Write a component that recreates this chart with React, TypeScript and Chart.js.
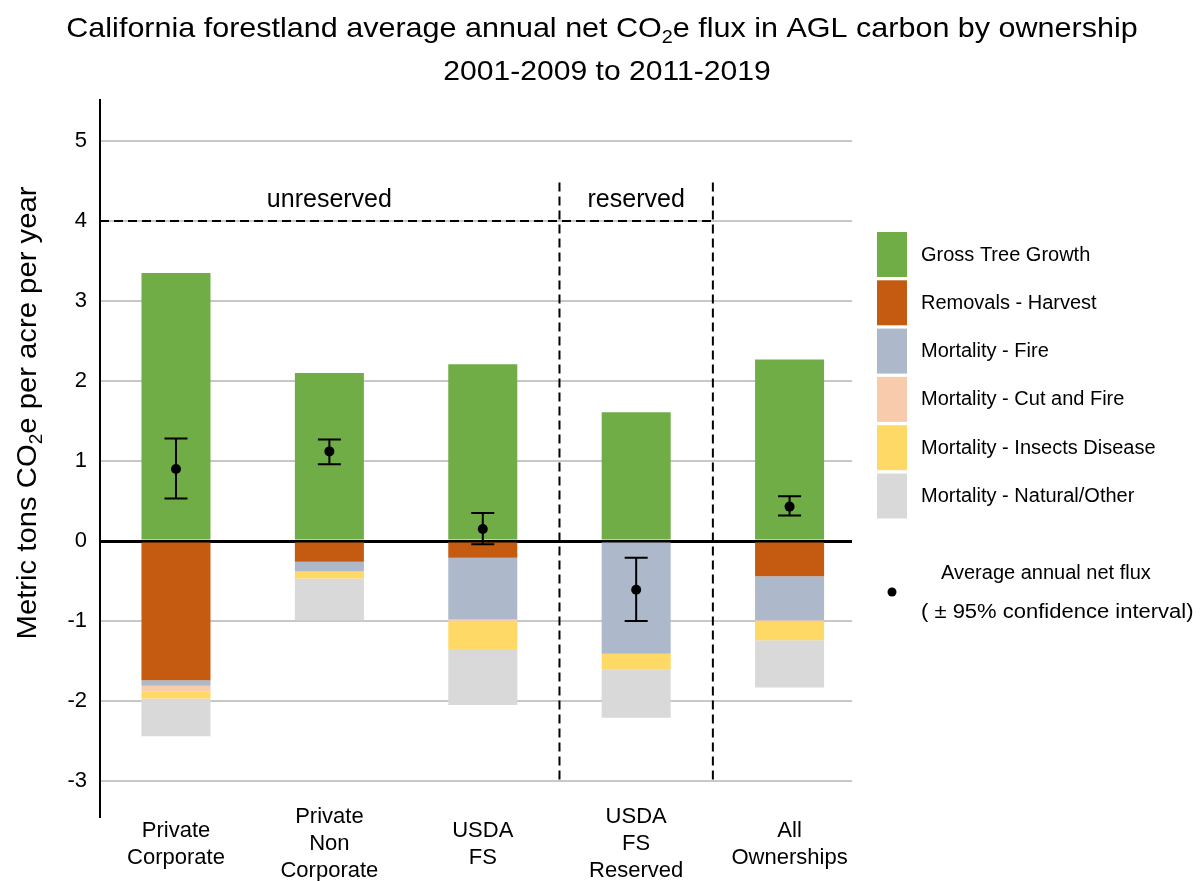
import React, { useEffect, useRef } from "react";
import { Chart, registerables } from "chart.js";

Chart.register(...registerables);

// ---------- data ----------
const CATEGORY_LABELS: string[][] = [
  ["Private", "Corporate"],
  ["Private", "Non", "Corporate"],
  ["USDA", "FS"],
  ["USDA", "FS", "Reserved"],
  ["All", "Ownerships"],
];
const SERIES_NAMES = [
  "Gross Tree Growth",
  "Removals - Harvest",
  "Mortality - Fire",
  "Mortality - Cut and Fire",
  "Mortality - Insects Disease",
  "Mortality - Natural/Other",
];
const SERIES_COLORS = ["#70AD47", "#C55A11", "#ADB9CA", "#F8CBAD", "#FFD966", "#D9D9D9"];

const GROSS_GROWTH = [3.35, 2.1, 2.21, 1.61, 2.27];
const REMOVALS_HARVEST = [-1.74, -0.26, -0.21, 0, -0.44];
const MORTALITY_FIRE = [-0.07, -0.12, -0.77, -1.41, -0.55];
const MORTALITY_CUT_FIRE = [-0.07, 0, -0.02, 0, -0.02];
const MORTALITY_INSECTS = [-0.09, -0.09, -0.35, -0.2, -0.23];
const MORTALITY_NATURAL = [-0.47, -0.52, -0.7, -0.6, -0.59];

const NET_FLUX = [0.9, 1.12, 0.15, -0.61, 0.43];
const CI_LOW = [0.53, 0.96, -0.04, -1.0, 0.32];
const CI_HIGH = [1.28, 1.27, 0.35, -0.21, 0.56];

const Y_TICKS = [-3, -2, -1, 0, 1, 2, 3, 4, 5];
const Y_MIN = -3.2125;
const Y_MAX = 5.5125;
const Y_AXIS_LINE_BOTTOM = -3.4625;
const X_MIN = -0.4954;
const X_MAX = 4.407;

const GROUP_LABELS = ["unreserved", "reserved"];
const GROUP_CENTERS = [1, 3];
const GROUP_DIVIDERS = [2.5, 3.5];
const GROUP_LINE_VALUE = 4;
const GROUP_LABEL_VALUE = 4.26;
const DIVIDER_TOP_VALUE = 4.48;

type Part = { t: string; sub?: boolean };
const TITLE_LINE_1: Part[] = [
  { t: "California forestland average annual net CO" },
  { t: "2", sub: true },
  { t: "e flux in AGL carbon by ownership" },
];
const TITLE_LINE_2: Part[] = [{ t: "2001-2009 to 2011-2019" }];
const Y_TITLE: Part[] = [
  { t: "Metric tons CO" },
  { t: "2", sub: true },
  { t: "e per acre per year" },
];
const FLUX_LEGEND = ["Average annual net flux", "( \u00B1 95% confidence interval)"];

const FONT = "'Liberation Sans', Arial, Helvetica, sans-serif";

// ---------- helpers ----------
function fontStr(size: number) {
  return `${size}px ${FONT}`;
}
function richWidth(ctx: CanvasRenderingContext2D, parts: Part[], size: number) {
  let w = 0;
  for (const p of parts) {
    ctx.font = fontStr(p.sub ? size * 0.65 : size);
    w += ctx.measureText(p.t).width;
  }
  return w;
}
// draws centred rich text (with subscripts), horizontally stretched by sx
function drawRich(
  ctx: CanvasRenderingContext2D,
  parts: Part[],
  cx: number,
  baseline: number,
  size: number,
  sx: number
) {
  ctx.save();
  ctx.translate(cx, baseline);
  ctx.scale(sx, 1);
  const w = richWidth(ctx, parts, size);
  let x = -w / 2;
  ctx.textAlign = "left";
  ctx.textBaseline = "alphabetic";
  for (const p of parts) {
    const s = p.sub ? size * 0.65 : size;
    ctx.font = fontStr(s);
    ctx.fillText(p.t, x, p.sub ? size * 0.2 : 0);
    x += ctx.measureText(p.t).width;
  }
  ctx.restore();
}

const decorPlugin = {
  id: "decor",
  beforeDatasetsDraw(chart: any) {
    const { ctx, scales, chartArea } = chart;
    const xs = scales.x;
    const ys = scales.y;
    ctx.save();
    ctx.strokeStyle = "#000";
    ctx.lineWidth = 2;
    // y axis line continues below the plot area
    ctx.beginPath();
    ctx.moveTo(chartArea.left, chartArea.bottom - 1);
    ctx.lineTo(chartArea.left, ys.getPixelForValue(Y_AXIS_LINE_BOTTOM));
    ctx.stroke();
    ctx.setLineDash([9, 5]);
    // horizontal group line
    const yLine = ys.getPixelForValue(GROUP_LINE_VALUE);
    ctx.beginPath();
    ctx.moveTo(chartArea.left, yLine);
    ctx.lineTo(xs.getPixelForValue(GROUP_DIVIDERS[GROUP_DIVIDERS.length - 1]), yLine);
    ctx.stroke();
    // vertical dividers
    for (const d of GROUP_DIVIDERS) {
      const px = xs.getPixelForValue(d);
      ctx.beginPath();
      ctx.moveTo(px, ys.getPixelForValue(DIVIDER_TOP_VALUE));
      ctx.lineTo(px, ys.getPixelForValue(Y_TICKS[0]));
      ctx.stroke();
    }
    ctx.setLineDash([]);
    // group labels
    ctx.fillStyle = "#000";
    ctx.font = fontStr(25);
    ctx.textAlign = "center";
    ctx.textBaseline = "middle";
    GROUP_LABELS.forEach((lab, i) => {
      ctx.fillText(lab, xs.getPixelForValue(GROUP_CENTERS[i]), ys.getPixelForValue(GROUP_LABEL_VALUE));
    });
    ctx.restore();
  },
  afterDatasetsDraw(chart: any) {
    const { ctx, scales } = chart;
    const xs = scales.x;
    const ys = scales.y;
    ctx.save();
    ctx.strokeStyle = "#000";
    ctx.lineWidth = 2;
    NET_FLUX.forEach((_, i) => {
      const px = xs.getPixelForValue(i);
      const yl = ys.getPixelForValue(CI_LOW[i]);
      const yh = ys.getPixelForValue(CI_HIGH[i]);
      ctx.beginPath();
      ctx.moveTo(px, yl);
      ctx.lineTo(px, yh);
      ctx.moveTo(px - 11.5, yl);
      ctx.lineTo(px + 11.5, yl);
      ctx.moveTo(px - 11.5, yh);
      ctx.lineTo(px + 11.5, yh);
      ctx.stroke();
    });
    ctx.restore();
  },
  afterDraw(chart: any) {
    const { ctx } = chart;
    ctx.save();
    ctx.fillStyle = "#000";
    // titles
    drawRich(ctx, TITLE_LINE_1, 602, 37, 28, 1.09);
    drawRich(ctx, TITLE_LINE_2, 607, 80, 28, 1.075);
    // y axis title
    ctx.save();
    ctx.translate(36, 413);
    ctx.rotate(-Math.PI / 2);
    drawRich(ctx, Y_TITLE, 0, 0, 28, 1.045);
    ctx.restore();
    // legend
    const bars = chart.data.datasets.filter((d: any) => d.type === "bar");
    bars.forEach((d: any, i: number) => {
      const top = 232 + i * 48.3;
      ctx.fillStyle = d.backgroundColor;
      ctx.fillRect(877, top, 30, 45);
      ctx.fillStyle = "#000";
      ctx.font = fontStr(20);
      ctx.textAlign = "left";
      ctx.textBaseline = "middle";
      ctx.fillText(d.label, 921, top + 23);
    });
    // flux legend
    ctx.beginPath();
    ctx.arc(892, 592, 4.5, 0, Math.PI * 2);
    ctx.fillStyle = "#000";
    ctx.fill();
    ctx.font = fontStr(20);
    ctx.textAlign = "left";
    ctx.textBaseline = "middle";
    ctx.fillText(FLUX_LEGEND[0], 941, 573);
    ctx.save();
    ctx.translate(921, 612);
    ctx.scale(1.1, 1);
    ctx.fillText(FLUX_LEGEND[1], 0, 0);
    ctx.restore();
    ctx.restore();
  },
};

export default function App() {
  const ref = useRef<HTMLCanvasElement>(null);
  useEffect(() => {
    const canvas = ref.current;
    if (!canvas) return;
    const seriesValues = [
      GROSS_GROWTH,
      REMOVALS_HARVEST,
      MORTALITY_FIRE,
      MORTALITY_CUT_FIRE,
      MORTALITY_INSECTS,
      MORTALITY_NATURAL,
    ];
    const barSets = seriesValues.map((vals, k) => ({
      type: "bar" as const,
      label: SERIES_NAMES[k],
      data: vals.map((v, i) => ({ x: i, y: v })),
      backgroundColor: SERIES_COLORS[k],
      borderWidth: 0,
      stack: "main",
      categoryPercentage: 0.45,
      barPercentage: 1,
      order: 1,
    }));
    const fluxSet = {
      type: "line" as const,
      label: FLUX_LEGEND[0],
      data: NET_FLUX.map((v, i) => ({ x: i, y: v })),
      showLine: false,
      pointRadius: 5,
      pointHoverRadius: 5,
      pointBackgroundColor: "#000",
      pointBorderWidth: 0,
      borderColor: "#000",
      stack: "flux",
      order: 0,
    };
    const chart = new Chart(canvas, {
      type: "bar",
      data: { datasets: [fluxSet as any, ...barSets] },
      options: {
        responsive: false,
        animation: false,
        events: [],
        layout: { padding: { left: 0, top: 100, right: 350, bottom: 0 } },
        plugins: {
          legend: { display: false },
          tooltip: { enabled: false },
          title: { display: false },
        },
        scales: {
          x: {
            type: "linear",
            min: X_MIN,
            max: X_MAX,
            offset: false,
            grid: { display: false, drawTicks: false, offset: false },
            border: { display: false },
            afterBuildTicks: (s: any) => {
              s.ticks = CATEGORY_LABELS.map((_, i) => ({ value: i }));
            },
            afterFit: (s: any) => {
              s.height = 83;
            },
            ticks: {
              autoSkip: false,
              maxRotation: 0,
              minRotation: 0,
              padding: 19,
              crossAlign: "center",
              color: "#000",
              font: { family: FONT, size: 22, lineHeight: 27 / 22 },
              callback: (v: any) => CATEGORY_LABELS[Math.round(Number(v))] ?? "",
            },
          },
          y: {
            type: "linear",
            min: Y_MIN,
            max: Y_MAX,
            stacked: true,
            afterBuildTicks: (s: any) => {
              s.ticks = Y_TICKS.map((v) => ({ value: v }));
            },
            afterFit: (s: any) => {
              s.width = 100;
            },
            grid: {
              drawTicks: false,
              color: (c: any) => (c.tick && c.tick.value === 0 ? "#000" : "#C8C8C8"),
              lineWidth: (c: any) => (c.tick && c.tick.value === 0 ? 3 : 2),
            },
            border: { display: true, color: "#000", width: 2 },
            ticks: {
              padding: 13,
              color: "#000",
              font: { family: FONT, size: 22 },
            },
          },
        },
      } as any,
      plugins: [decorPlugin],
    });
    return () => chart.destroy();
  }, []);
  return (
    <div style={{ position: "absolute", left: 0, top: 0, width: 1202, height: 881, background: "#fff" }}>
      <canvas ref={ref} width={1202} height={881} style={{ display: "block" }} />
    </div>
  );
}
